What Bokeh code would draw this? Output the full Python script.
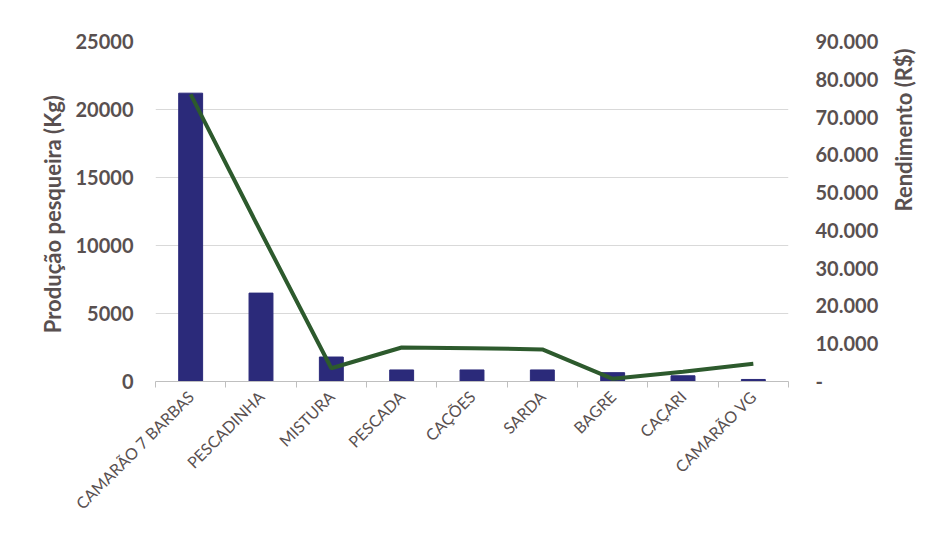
import math
from bokeh.plotting import figure
from bokeh.models import Range1d, LinearAxis, FixedTicker, Legend, LegendItem
from bokeh.embed import file_html
from bokeh.resources import INLINE

categories = ["CAMARÃO 7 BARBAS", "PESCADINHA", "MISTURA", "PESCADA", "CAÇÕES",
              "SARDA", "BAGRE", "CAÇARI", "CAMARÃO VG"]
producao_kg = [21200, 6500, 1800, 850, 850, 850, 650, 420, 150]
rendimento_rs = [76000, 39500, 3500, 9000, 8800, 8500, 700, 2600, 4700]
left_ticks = [0, 5000, 10000, 15000, 20000, 25000]
right_ticks = [0, 10000, 20000, 30000, 40000, 50000, 60000, 70000, 80000, 90000]
right_labels = ["-", "10.000", "20.000", "30.000", "40.000", "50.000",
                "60.000", "70.000", "80.000", "90.000"]

FONT = "Lato"
TXT = "#595050"
BAR = "#2B2A7A"
LINE = "#2D5A2D"

n = len(categories)
xs = [i + 0.5 for i in range(n)]

p = figure(width=925, height=557, frame_width=633, frame_height=340,
           output_backend="svg", toolbar_location=None,
           x_range=Range1d(0, n), y_range=Range1d(0, 25000),
           min_border_left=155, min_border_right=137, min_border_top=41,
           min_border_bottom=150)
p.outline_line_color = None
p.background_fill_color = "white"
p.border_fill_color = "white"

p.extra_y_ranges = {"r": Range1d(0, 90000)}

bars = p.vbar(x=xs, top=producao_kg, width=0.34, color=BAR)
line = p.line(x=xs, y=rendimento_rs, y_range_name="r", line_color=LINE, line_width=4)

# x axis
xa = p.xaxis[0]
xa.ticker = FixedTicker(ticks=xs, minor_ticks=list(range(n + 1)))
xa.major_label_overrides = {x: c for x, c in zip(xs, categories)}
xa.major_label_orientation = math.pi / 4
xa.major_tick_line_color = None
xa.minor_tick_in = 0
xa.minor_tick_out = 6
xa.minor_tick_line_color = "#bfbfbf"
xa.axis_line_color = "#bfbfbf"
xa.major_label_text_font = FONT
xa.major_label_text_font_size = "16px"
xa.major_label_text_color = TXT
xa.major_label_standoff = 6

# left axis
ya = p.yaxis[0]
ya.ticker = FixedTicker(ticks=left_ticks)
ya.axis_line_color = None
ya.major_tick_line_color = None
ya.minor_tick_line_color = None
ya.major_label_text_font = FONT
ya.major_label_text_font_size = "20px"
ya.major_label_text_font_style = "bold"
ya.major_label_text_color = TXT
ya.major_label_standoff = 16
ya.axis_label = "Produção  pesqueira (Kg)"
ya.axis_label_text_font = FONT
ya.axis_label_text_font_size = "22px"
ya.axis_label_text_font_style = "bold"
ya.axis_label_text_color = TXT
ya.axis_label_standoff = 7

# right axis
ra = LinearAxis(y_range_name="r", ticker=FixedTicker(ticks=right_ticks))
ra.major_label_overrides = {t: l for t, l in zip(right_ticks, right_labels)}
ra.axis_line_color = None
ra.major_tick_line_color = None
ra.minor_tick_line_color = None
ra.major_label_text_font = FONT
ra.major_label_text_font_size = "20px"
ra.major_label_text_font_style = "bold"
ra.major_label_text_color = TXT
ra.major_label_standoff = 21
ra.axis_label = "Rendimento (R$)"
ra.axis_label_text_font = FONT
ra.axis_label_text_font_size = "22px"
ra.axis_label_text_font_style = "bold"
ra.axis_label_text_color = TXT
ra.axis_label_standoff = 22
try:
    ra.axis_label_orientation = math.pi / 2
    ra.axis_label_text_align = "center"
except Exception:
    pass
p.add_layout(ra, "right")

p.xgrid.grid_line_color = None
p.ygrid.grid_line_color = "#d9d9d9"
p.ygrid.ticker = FixedTicker(ticks=left_ticks)

legend = Legend(items=[LegendItem(label="Produção pesqueira (Kg)", renderers=[bars]),
                       LegendItem(label="Rendimento (R$)", renderers=[line])],
                orientation="horizontal", location="center",
                border_line_color=None, background_fill_alpha=0,
                padding=0, margin=0, spacing=58, label_standoff=3,
                glyph_width=46, glyph_height=13,
                label_text_font=FONT, label_text_font_size="17px",
                label_text_color="#4a4545")
p.add_layout(legend, "below")

open("out.html", "w").write(file_html(p, INLINE))
